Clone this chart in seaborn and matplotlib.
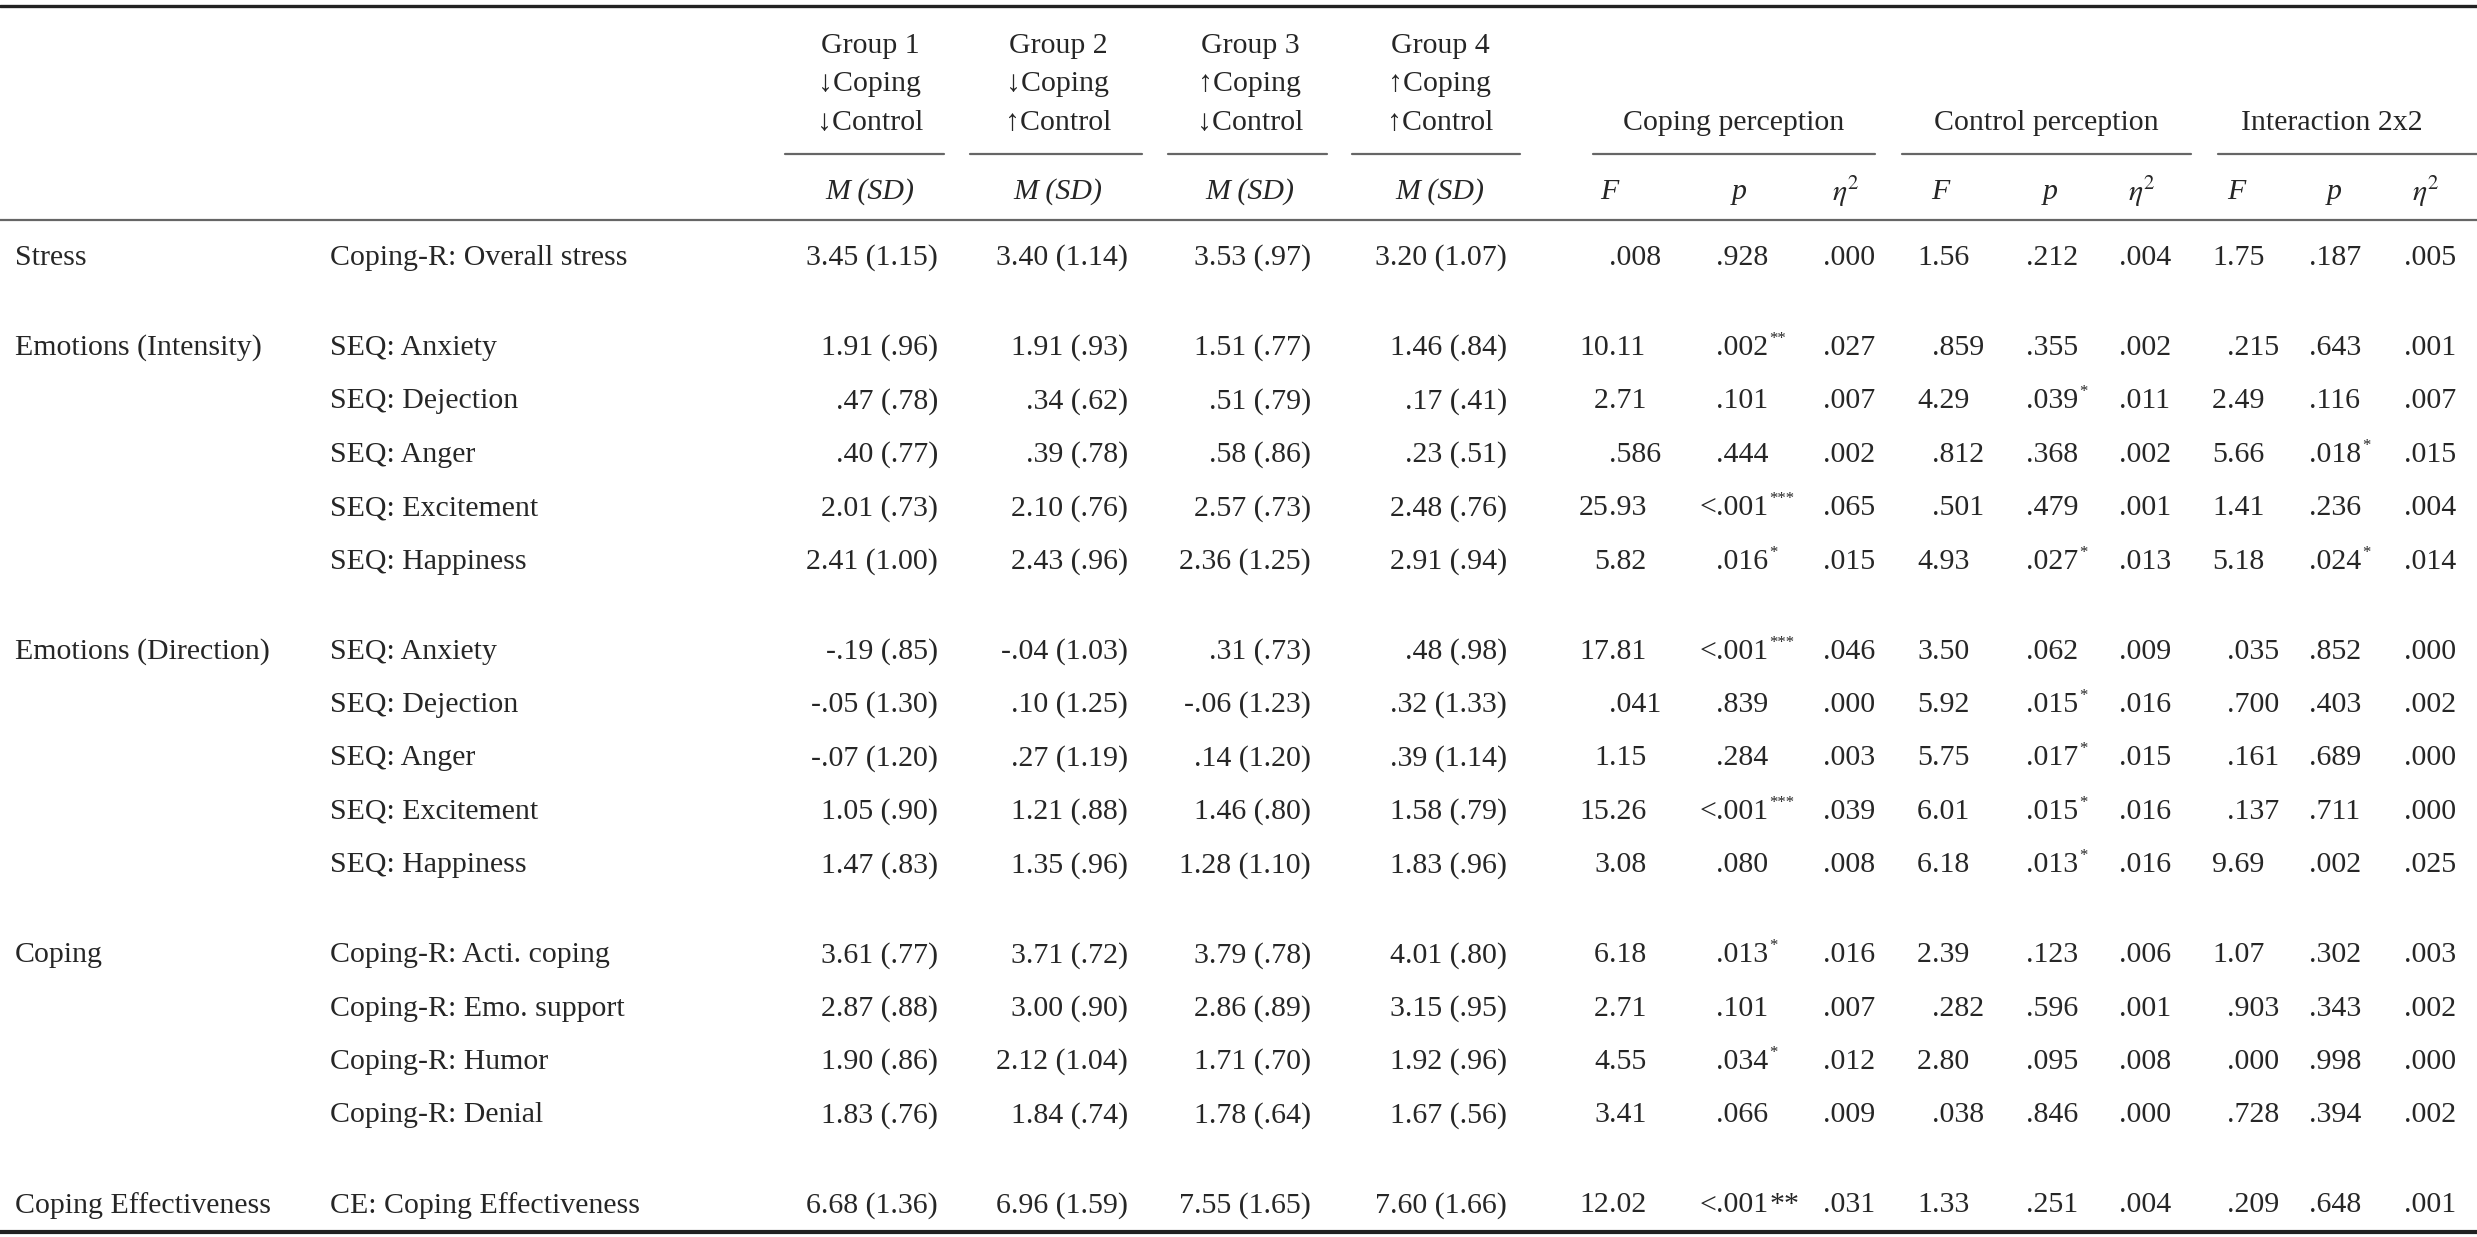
import matplotlib.pyplot as plt
import seaborn as sns

sns.set_theme(style='white')
plt.rcParams['font.family'] = ['Liberation Serif', 'DejaVu Serif']
plt.rcParams['mathtext.fontset'] = 'stix'

sections = ['Stress', 'Emotions (Intensity)', 'Emotions (Direction)', 'Coping', 'Coping Effectiveness']
measures = [
    ['Coping-R: Overall stress'],
    ['SEQ: Anxiety', 'SEQ: Dejection', 'SEQ: Anger', 'SEQ: Excitement', 'SEQ: Happiness'],
    ['SEQ: Anxiety', 'SEQ: Dejection', 'SEQ: Anger', 'SEQ: Excitement', 'SEQ: Happiness'],
    ['Coping-R: Acti. coping', 'Coping-R: Emo. support', 'Coping-R: Humor', 'Coping-R: Denial'],
    ['CE: Coping Effectiveness'],
]
group1 = ['3.45 (1.15)', '1.91 (.96)', '.47 (.78)', '.40 (.77)', '2.01 (.73)', '2.41 (1.00)',
          '-.19 (.85)', '-.05 (1.30)', '-.07 (1.20)', '1.05 (.90)', '1.47 (.83)',
          '3.61 (.77)', '2.87 (.88)', '1.90 (.86)', '1.83 (.76)', '6.68 (1.36)']
group2 = ['3.40 (1.14)', '1.91 (.93)', '.34 (.62)', '.39 (.78)', '2.10 (.76)', '2.43 (.96)',
          '-.04 (1.03)', '.10 (1.25)', '.27 (1.19)', '1.21 (.88)', '1.35 (.96)',
          '3.71 (.72)', '3.00 (.90)', '2.12 (1.04)', '1.84 (.74)', '6.96 (1.59)']
group3 = ['3.53 (.97)', '1.51 (.77)', '.51 (.79)', '.58 (.86)', '2.57 (.73)', '2.36 (1.25)',
          '.31 (.73)', '-.06 (1.23)', '.14 (1.20)', '1.46 (.80)', '1.28 (1.10)',
          '3.79 (.78)', '2.86 (.89)', '1.71 (.70)', '1.78 (.64)', '7.55 (1.65)']
group4 = ['3.20 (1.07)', '1.46 (.84)', '.17 (.41)', '.23 (.51)', '2.48 (.76)', '2.91 (.94)',
          '.48 (.98)', '.32 (1.33)', '.39 (1.14)', '1.58 (.79)', '1.83 (.96)',
          '4.01 (.80)', '3.15 (.95)', '1.92 (.96)', '1.67 (.56)', '7.60 (1.66)']
coping_F = ['.008', '10.11', '2.71', '.586', '25.93', '5.82', '17.81', '.041', '1.15', '15.26', '3.08',
            '6.18', '2.71', '4.55', '3.41', '12.02']
coping_p = ['.928', '.002**', '.101', '.444', '<.001***', '.016*', '<.001***', '.839', '.284', '<.001***', '.080',
            '.013*', '.101', '.034*', '.066', '<.001**']
coping_eta = ['.000', '.027', '.007', '.002', '.065', '.015', '.046', '.000', '.003', '.039', '.008',
              '.016', '.007', '.012', '.009', '.031']
control_F = ['1.56', '.859', '4.29', '.812', '.501', '4.93', '3.50', '5.92', '5.75', '6.01', '6.18',
             '2.39', '.282', '2.80', '.038', '1.33']
control_p = ['.212', '.355', '.039*', '.368', '.479', '.027*', '.062', '.015*', '.017*', '.015*', '.013*',
             '.123', '.596', '.095', '.846', '.251']
control_eta = ['.004', '.002', '.011', '.002', '.001', '.013', '.009', '.016', '.015', '.016', '.016',
               '.006', '.001', '.008', '.000', '.004']
inter_F = ['1.75', '.215', '2.49', '5.66', '1.41', '5.18', '.035', '.700', '.161', '.137', '9.69',
           '1.07', '.903', '.000', '.728', '.209']
inter_p = ['.187', '.643', '.116', '.018*', '.236', '.024*', '.852', '.403', '.689', '.711', '.002',
           '.302', '.343', '.998', '.394', '.648']
inter_eta = ['.005', '.001', '.007', '.015', '.004', '.014', '.000', '.002', '.000', '.000', '.025',
             '.003', '.002', '.000', '.002', '.001']
group_heads = [['Group 1', '\u2193Coping', '\u2193Control'], ['Group 2', '\u2193Coping', '\u2191Control'],
               ['Group 3', '\u2191Coping', '\u2193Control'], ['Group 4', '\u2191Coping', '\u2191Control']]
effect_heads = ['Coping perception', 'Control perception', 'Interaction 2x2']

W, H = 2477, 1237
fig = plt.figure(figsize=(W / 100, H / 100), dpi=100)
ax = fig.add_axes([0, 0, 1, 1])
ax.set_xlim(0, W)
ax.set_ylim(H, 0)
ax.axis('off')
fs = 21.5

# row positions
row_y = []
y = 258
for si, ms in enumerate(measures):
    if si > 0:
        y += 90 - 53.4
    for m in ms:
        row_y.append(y)
        y += 53.4

# lines
ax.plot([0, W], [6, 6], color='#222', lw=2.4)
ax.plot([0, W], [220, 220], color='#666', lw=1.6)
ax.plot([0, W], [1232, 1232], color='#222', lw=3)
for x0, x1 in [(785, 944), (970, 1142), (1168, 1327), (1352, 1520),
               (1593, 1875), (1902, 2191), (2218, 2477)]:
    ax.plot([x0, x1], [154, 154], color='#666', lw=1.6)

# headers
gcent = [870, 1058, 1250, 1440]
for cx, lines in zip(gcent, group_heads):
    for ly, t in zip([53, 91, 130], lines):
        ax.text(cx, ly, t, ha='center', va='baseline', fontsize=fs)
    ax.text(cx, 192, 'M (SD)', ha='center', va='center', fontsize=fs, style='italic')
for cx, t in zip([1734, 2046, 2332], effect_heads):
    ax.text(cx, 130, t, ha='center', va='baseline', fontsize=fs)
for cx, t in zip([1609, 1739, 1846, 1940, 2050, 2142, 2236, 2334, 2426], ['F', 'p', 'eta'] * 3):
    if t == 'eta':
        ax.text(cx, 192, r'$\eta^2$', ha='center', va='center', fontsize=fs)
    else:
        ax.text(cx, 192, t, ha='center', va='center', fontsize=fs, style='italic')

# labels
i = 0
for sec, ms in zip(sections, measures):
    ax.text(15, row_y[i], sec, ha='left', va='center', fontsize=fs)
    for m in ms:
        ax.text(330, row_y[i], m, ha='left', va='center', fontsize=fs)
        i += 1

for xr, col in zip([938, 1128, 1311, 1507], [group1, group2, group3, group4]):
    for yy, v in zip(row_y, col):
        ax.text(xr, yy, v, ha='right', va='center', fontsize=fs)

fig.canvas.draw()
renderer = fig.canvas.get_renderer()


def dec_text(xd, yy, v, sup=True):
    # decimal-aligned number with optional significance stars
    stars = v[len(v.rstrip('*')):]
    base = v.rstrip('*')
    k = base.index('.')
    left, right = base[:k], base[k:]
    if left:
        ax.text(xd, yy, left, ha='right', va='center', fontsize=fs)
    t = ax.text(xd, yy, right, ha='left', va='center', fontsize=fs)
    if stars:
        bb = t.get_window_extent(renderer=renderer)
        xe = bb.x1 + 1
        if sup:
            ax.text(xe, yy - 9, stars, ha='left', va='center', fontsize=12)
        else:
            ax.text(xe, yy, stars, ha='left', va='center', fontsize=fs)


cols = [(1609, coping_F), (1716, coping_p), (1823, coping_eta),
        (1932, control_F), (2026, control_p), (2119, control_eta),
        (2227, inter_F), (2309, inter_p), (2404, inter_eta)]
n = len(row_y)
for xd, col in cols:
    for ri, (yy, v) in enumerate(zip(row_y, col)):
        dec_text(xd, yy, v, sup=(ri != n - 1))

fig.savefig('out.png', dpi=100, facecolor='white')
